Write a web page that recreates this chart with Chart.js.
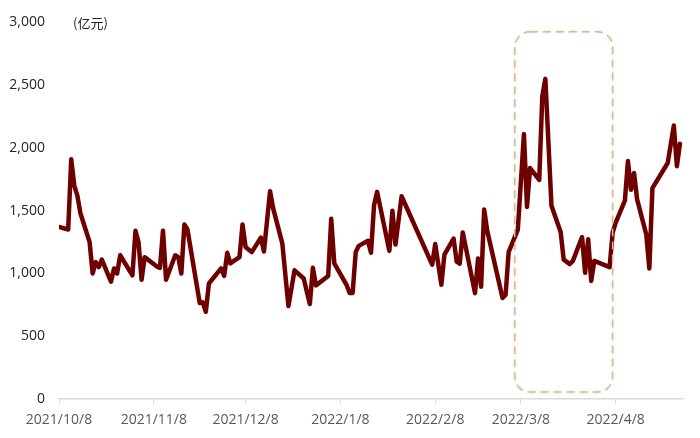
<!DOCTYPE html>
<html>
<head>
<meta charset="utf-8">
<script src="https://cdn.jsdelivr.net/npm/chart.js@4/dist/chart.umd.min.js"></script>
<style>
  html, body { margin: 0; padding: 0; background: #fff; }
  #wrap { width: 700px; height: 438px; }
</style>
</head>
<body>
<div id="wrap"><canvas id="chart"></canvas></div>
<script>
// 日期与数值（亿元）
const dates = [
  '2021/10/8', '2021/10/11', '2021/10/12', '2021/10/13', '2021/10/14', '2021/10/15',
  '2021/10/18', '2021/10/19', '2021/10/20', '2021/10/21', '2021/10/22',
  '2021/10/25', '2021/10/26', '2021/10/27', '2021/10/28',
  '2021/11/1', '2021/11/2', '2021/11/3', '2021/11/4', '2021/11/5',
  '2021/11/9', '2021/11/10', '2021/11/11', '2021/11/12',
  '2021/11/15', '2021/11/16', '2021/11/17', '2021/11/18', '2021/11/19',
  '2021/11/23', '2021/11/24', '2021/11/25', '2021/11/26',
  '2021/11/30', '2021/12/1', '2021/12/2', '2021/12/3',
  '2021/12/6', '2021/12/7', '2021/12/8', '2021/12/10',
  '2021/12/13', '2021/12/14', '2021/12/16', '2021/12/17',
  '2021/12/20', '2021/12/22', '2021/12/24',
  '2021/12/27', '2021/12/29', '2021/12/30', '2021/12/31',
  '2022/1/4', '2022/1/5', '2022/1/6',
  '2022/1/10', '2022/1/11', '2022/1/12', '2022/1/13', '2022/1/14',
  '2022/1/17', '2022/1/18', '2022/1/19', '2022/1/20',
  '2022/1/24', '2022/1/25', '2022/1/26', '2022/1/28',
  '2022/2/7', '2022/2/8', '2022/2/10', '2022/2/11',
  '2022/2/14', '2022/2/15', '2022/2/16', '2022/2/17',
  '2022/2/21', '2022/2/22', '2022/2/23', '2022/2/24', '2022/2/25',
  '2022/3/2', '2022/3/3', '2022/3/4',
  '2022/3/7', '2022/3/9', '2022/3/10', '2022/3/11',
  '2022/3/14', '2022/3/15', '2022/3/16', '2022/3/18',
  '2022/3/21', '2022/3/22', '2022/3/24', '2022/3/25',
  '2022/3/28', '2022/3/29', '2022/3/30', '2022/3/31', '2022/4/1',
  '2022/4/6', '2022/4/7', '2022/4/8',
  '2022/4/11', '2022/4/12', '2022/4/13', '2022/4/14', '2022/4/15',
  '2022/4/18', '2022/4/19', '2022/4/20',
  '2022/4/25', '2022/4/27', '2022/4/28', '2022/4/29'
];

const values = [
  1370, 1350, 1910, 1700, 1620, 1480,
  1250, 1000, 1090, 1050, 1110,
  935, 1040, 1000, 1145,
  985, 1340, 1250, 950, 1130,
  1055, 1045, 1340, 950,
  1145, 1130, 1000, 1390, 1350,
  765, 770, 695, 920,
  1040, 980, 1165, 1080,
  1130, 1390, 1210, 1170,
  1285, 1175, 1655, 1520,
  1240, 740, 1025,
  960, 756, 1045, 905,
  980, 1435, 1080,
  910, 845, 845, 1170, 1220,
  1260, 1165, 1545, 1650,
  1180, 1500, 1230, 1615,
  1070, 1235, 910, 1150,
  1278, 1095, 1078, 1327,
  843, 1120, 895, 1510, 1340,
  805, 830, 1170,
  1350, 2110, 1530, 1840,
  1745, 2410, 2550, 1540,
  1330, 1110, 1075, 1100,
  1290, 1005, 1272, 940, 1100,
  1050, 1325, 1405,
  1580, 1895, 1667, 1800, 1590,
  1310, 1040, 1680,
  1880, 2178, 1855, 2034
];

// 横轴刻度
const tickLabels = ['2021/10/8', '2021/11/8', '2021/12/8', '2022/1/8', '2022/2/8', '2022/3/8', '2022/4/8'];
const axisEnd = '2022/4/30';
const yTicks = [0, 500, 1000, 1500, 2000, 2500, 3000];

// 高亮区间（日期、数值范围）
const highlightDates = ['2022/3/6', '2022/4/7'];
const highlightValues = [55, 2925];

const unitLabel = '(亿元)';

function dayIndex(s) {
  const p = s.split('/').map(Number);
  return (Date.UTC(p[0], p[1] - 1, p[2]) - Date.UTC(2021, 9, 8)) / 86400000;
}

const points = dates.map((d, i) => ({ x: dayIndex(d), y: values[i] }));
const tickDays = tickLabels.map(dayIndex);

// 虚线圆角框 + 单位
const overlayPlugin = {
  id: 'overlay',
  afterDatasetsDraw(chart) {
    const { ctx, scales: { x, y }, chartArea } = chart;
    const x0 = x.getPixelForValue(dayIndex(highlightDates[0]));
    const x1 = x.getPixelForValue(dayIndex(highlightDates[1]));
    const y0 = y.getPixelForValue(highlightValues[1]);
    const y1 = y.getPixelForValue(highlightValues[0]);
    ctx.save();
    ctx.shadowColor = 'rgba(0,0,0,0.18)';
    ctx.shadowBlur = 3;
    ctx.strokeStyle = '#D6BF8E';
    ctx.lineWidth = 1.5;
    ctx.setLineDash([8, 5]);
    ctx.beginPath();
    ctx.roundRect(x0, y0, x1 - x0, y1 - y0, 15);
    ctx.stroke();
    ctx.restore();

    ctx.save();
    ctx.font = '13px "Noto Sans CJK SC", sans-serif';
    ctx.fillStyle = '#222';
    ctx.textBaseline = 'middle';
    ctx.fillText(unitLabel, chartArea.left + 14, y.getPixelForValue(3000) + 1);
    ctx.restore();
  }
};

new Chart(document.getElementById('chart'), {
  type: 'line',
  data: {
    datasets: [{
      data: points,
      borderColor: '#6E0000',
      borderWidth: 4.5,
      borderJoinStyle: 'round',
      borderCapStyle: 'round',
      pointRadius: 0,
      tension: 0,
      fill: false
    }]
  },
  options: {
    responsive: true,
    maintainAspectRatio: false,
    animation: false,
    layout: { padding: { top: 17, right: 17, left: 0, bottom: 0 } },
    plugins: {
      legend: { display: false },
      tooltip: { enabled: false }
    },
    scales: {
      x: {
        type: 'linear',
        min: 0,
        max: dayIndex(axisEnd),
        afterBuildTicks: (scale) => { scale.ticks = tickDays.map(v => ({ value: v })); },
        afterFit: (scale) => { scale.height = 39; },
        grid: {
          drawOnChartArea: false,
          drawTicks: true,
          tickLength: 5,
          color: '#D9D9D9',
          lineWidth: 1
        },
        border: { display: true, color: '#D9D9D9', width: 1.5 },
        ticks: {
          autoSkip: false,
          maxRotation: 0,
          padding: 8,
          color: '#595959',
          font: { family: '"Open Sans"', size: 14 },
          callback: (value, index) => tickLabels[index]
        }
      },
      y: {
        min: 0,
        max: 3000,
        afterBuildTicks: (scale) => { scale.ticks = yTicks.map(v => ({ value: v })); },
        afterFit: (scale) => { scale.width = 59; },
        grid: { display: false, drawTicks: false },
        border: { display: false },
        ticks: {
          padding: 14,
          color: '#262626',
          font: { family: '"Open Sans"', size: 14 },
          callback: (value) => value.toLocaleString('en-US')
        }
      }
    }
  },
  plugins: [overlayPlugin]
});
</script>
</body>
</html>
